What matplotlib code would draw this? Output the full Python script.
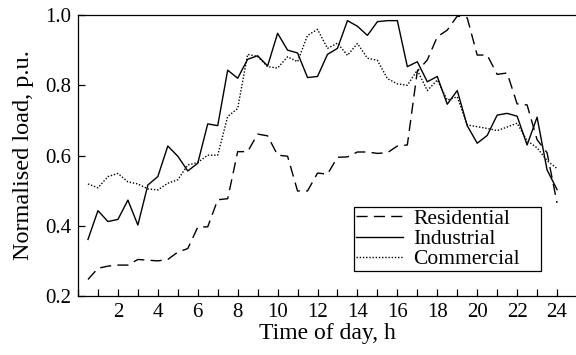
import matplotlib
matplotlib.use("Agg")
import matplotlib.pyplot as plt
from matplotlib.ticker import MultipleLocator, FormatStrFormatter

# half-hourly time stamps, h
hours = [0.5 * (i + 1) for i in range(48)]

residential = [
    0.247, 0.279, 0.285, 0.288, 0.288, 0.304, 0.302, 0.300, 0.304, 0.325,
    0.335, 0.396, 0.397, 0.474, 0.477, 0.611, 0.611, 0.661, 0.656, 0.601,
    0.598, 0.499, 0.499, 0.550, 0.547, 0.595, 0.596, 0.610, 0.610, 0.606,
    0.608, 0.627, 0.630, 0.840, 0.872, 0.938, 0.957, 0.997, 0.992, 0.886,
    0.886, 0.831, 0.835, 0.747, 0.744, 0.645, 0.608, 0.465,
]
industrial = [
    0.361, 0.443, 0.412, 0.418, 0.473, 0.402, 0.516, 0.540, 0.627, 0.598,
    0.556, 0.578, 0.690, 0.685, 0.843, 0.820, 0.874, 0.884, 0.855, 0.948,
    0.900, 0.892, 0.822, 0.825, 0.888, 0.905, 0.984, 0.968, 0.942, 0.981,
    0.984, 0.984, 0.853, 0.867, 0.810, 0.825, 0.746, 0.785, 0.685, 0.635,
    0.657, 0.715, 0.720, 0.712, 0.630, 0.709, 0.559, 0.503,
]
commercial = [
    0.519, 0.508, 0.540, 0.549, 0.525, 0.519, 0.505, 0.502, 0.521, 0.531,
    0.573, 0.580, 0.601, 0.601, 0.711, 0.734, 0.888, 0.882, 0.853, 0.849,
    0.881, 0.867, 0.942, 0.959, 0.905, 0.920, 0.885, 0.919, 0.877, 0.871,
    0.819, 0.804, 0.800, 0.843, 0.785, 0.815, 0.758, 0.767, 0.687, 0.682,
    0.677, 0.671, 0.681, 0.692, 0.642, 0.622, 0.585, 0.563,
]

plt.rcParams["font.family"] = ["Liberation Serif", "DejaVu Serif"]
plt.rcParams["font.size"] = 15

fig = plt.figure(figsize=(5.76, 3.55), dpi=100)
ax = fig.add_axes([0.1354, 0.1662, 0.8646, 0.7915])

ax.plot(hours, residential, color="black", linewidth=1.0, dashes=(8, 4.5), label="Residential")
ax.plot(hours, industrial, color="black", linewidth=1.0, label="Industrial")
ax.plot(hours, commercial, color="black", linewidth=1.0, dashes=(1, 1.3), label="Commercial")

ax.set_xlim(0, 24.95)
ax.set_ylim(0.2, 1.0)
ax.xaxis.set_minor_locator(MultipleLocator(1))
ax.yaxis.set_major_locator(MultipleLocator(0.2))
ax.yaxis.set_major_formatter(FormatStrFormatter("%.1f"))
ax.set_xticks([h for h in range(2, 25, 2)])
ax.tick_params(which="both", direction="in", length=5, width=0.9, top=False, right=False,
               labelsize=15)
ax.tick_params(axis="x", pad=5)
ax.tick_params(axis="y", pad=5)
ax.spines["right"].set_visible(False)
for s in ("left", "top", "bottom"):
    ax.spines[s].set_linewidth(0.9)

ax.set_xlabel("Time of day, h", fontsize=17, labelpad=0.5)
ax.set_ylabel("Normalised load, p.u.", fontsize=17.5, labelpad=8)

leg = ax.legend(loc="lower left", bbox_to_anchor=(0.554, 0.088, 0.376, 0.24), mode="expand",
                frameon=True, fancybox=False, edgecolor="black", framealpha=1,
                handlelength=2.2, labelspacing=0.0, borderpad=0.1, handletextpad=0.45,
                borderaxespad=0, prop={"size": 15.5})
leg.get_frame().set_linewidth(0.9)

fig.savefig("out.png", dpi=100)
